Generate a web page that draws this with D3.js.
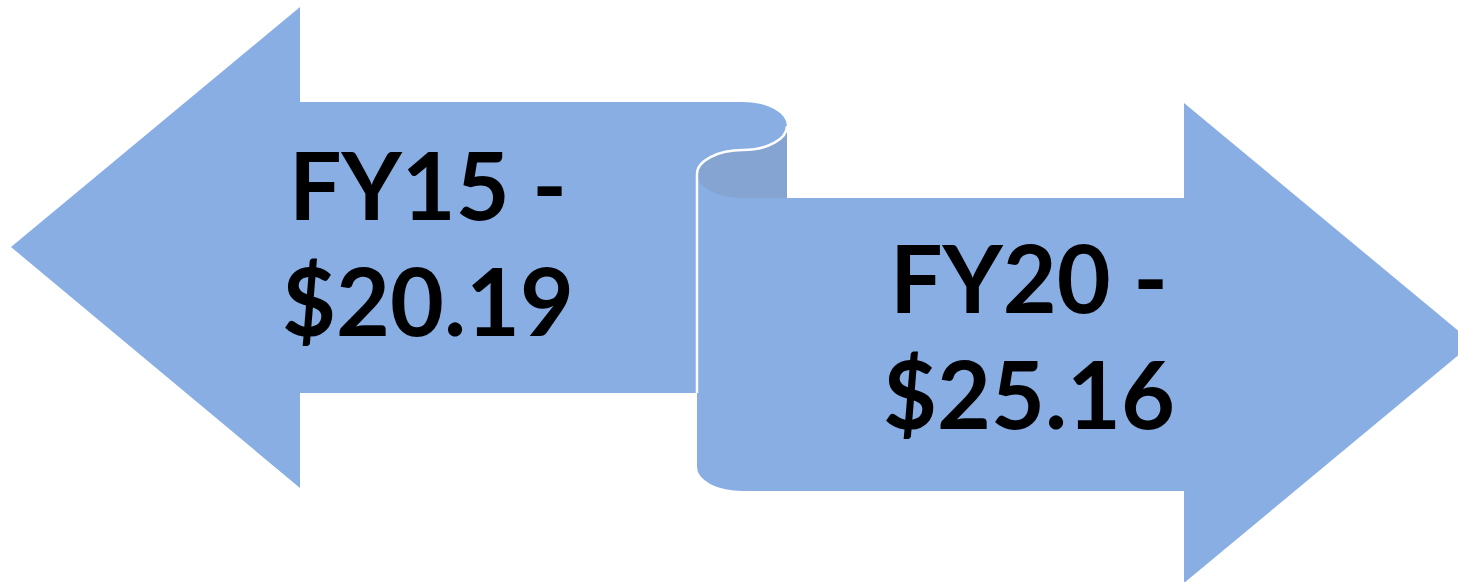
<!DOCTYPE html>
<meta charset="utf-8">
<style>
    body {
        margin: 0;
        background: #fff;
    }

    text {
        font-family: "Lato", "Open Sans", sans-serif;
        font-weight: bold;
        fill: #000;
    }
</style>
<svg width="1458" height="582"></svg>
<script src="https://d3js.org/d3.v7.min.js"></script>
<script>
    var svg = d3.select("svg"),
        width = +svg.attr("width"),
        height = +svg.attr("height");

    // data
    const years = ["FY15", "FY20"];
    const values = [20.19, 25.16];

    var fmt = d3.format("$.2f");
    var light = "#88aee4",
        dark = "#85a4d1";

    // shape geometry
    var leftTip = 11, leftHeadX = 300, leftCy = 247, headHalf = 240;
    var lShaftTop = 102, lShaftBot = 393;
    var rHeadX = 1184, rCy = 343, rTip = rHeadX + (leftHeadX - leftTip);
    var rShaftTop = 198, rShaftBot = 491;
    var curlX = 743, curlR = 787, scrollL = 697, rx = 45, ry = 24;

    // left arrow
    var p = d3.path();
    p.moveTo(leftTip, leftCy);
    p.lineTo(leftHeadX, leftCy - headHalf);
    p.lineTo(leftHeadX, lShaftTop);
    p.lineTo(curlX, lShaftTop);
    var leftD = p.toString() +
        `A${rx - 1},${ry} 0 0 1 ${curlR},${lShaftTop + ry}` +
        `L${curlR},${rShaftTop}L${scrollL},${rShaftTop}L${scrollL},${lShaftBot}` +
        `L${leftHeadX},${lShaftBot}L${leftHeadX},${leftCy + headHalf + 1}Z`;

    svg.append("path").attr("d", leftD).attr("fill", light);

    // right arrow (scroll)
    var rightD = `M${scrollL},${rShaftTop - ry}L${scrollL},${rShaftBot - ry}` +
        `A${rx},${ry} 0 0 0 ${curlX},${rShaftBot}` +
        `L${rHeadX},${rShaftBot}L${rHeadX},${rCy + headHalf}L${rTip},${rCy}` +
        `L${rHeadX},${rCy - headHalf}L${rHeadX},${rShaftTop}L${curlX},${rShaftTop}` +
        `A${rx + 1},${ry} 0 0 1 ${scrollL},${rShaftTop - ry}Z`;

    svg.append("path").attr("d", rightD).attr("fill", light);

    // inner curl (darker)
    var mid = lShaftTop + 2 * ry;
    var darkD = `M${curlR},${lShaftTop + ry}A${rx - 1},${ry} 0 0 1 ${curlX},${mid}` +
        `A${rx + 1},${ry} 0 0 0 ${scrollL},${mid + ry}` +
        `A${rx + 1},${ry} 0 0 0 ${curlX},${rShaftTop}L${curlR},${rShaftTop}Z`;

    svg.append("path").attr("d", darkD).attr("fill", dark);

    // white edge lines
    var edgeD = `M${curlR},${lShaftTop + ry}A${rx - 1},${ry} 0 0 1 ${curlX},${mid}` +
        `A${rx + 1},${ry} 0 0 0 ${scrollL},${mid + ry}L${scrollL},${lShaftBot}`;

    svg.append("path").attr("d", edgeD)
        .attr("fill", "none")
        .attr("stroke", "#fff")
        .attr("stroke-width", 2.5);

    // labels
    var labelPos = [
        { x: 428, y: 220 },
        { x: 1029, y: 313 }
    ];
    var lineGap = 116;

    var labels = svg.append("g")
        .selectAll("text")
        .data(years)
        .enter().append("text")
        .attr("text-anchor", "middle")
        .attr("font-size", 93)
        .attr("x", (d, i) => labelPos[i].x)
        .attr("y", (d, i) => labelPos[i].y);

    labels.append("tspan")
        .attr("x", (d, i) => labelPos[i].x)
        .text(d => d + " -");

    labels.append("tspan")
        .attr("x", (d, i) => labelPos[i].x)
        .attr("dy", lineGap)
        .text((d, i) => fmt(values[i]));
</script>
